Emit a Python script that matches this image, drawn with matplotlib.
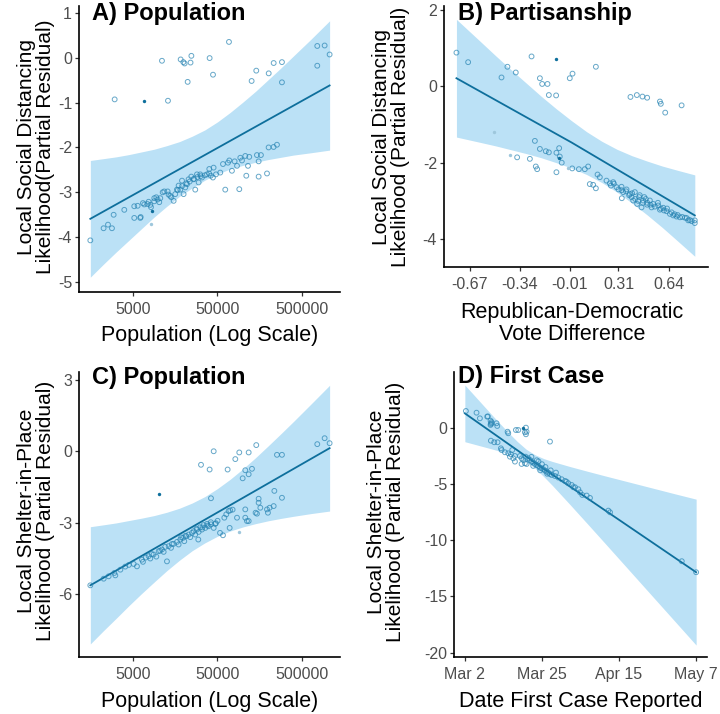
import numpy as np
import matplotlib.pyplot as plt
from matplotlib.ticker import NullLocator

plt.rcParams['font.family'] = ['Liberation Sans', 'DejaVu Sans']

# ---- Panel A: social distancing vs population (log10 population) ----
a_logpop = [3.482, 4.113, 4.042, 4.263, 4.295, 4.310, 4.380, 4.390, 4.346, 4.606, 4.646,
            4.835, 5.103, 5.158, 5.305, 5.364, 5.462, 5.462, 5.880, 5.880, 5.967, 6.026,
            3.194, 3.351, 3.403, 3.450, 3.470, 3.596, 3.714, 3.785, 3.790, 3.714,
            3.754, 3.817, 3.833, 3.884, 3.904, 3.912, 3.951, 3.975, 4.010, 4.022,
            4.069, 4.109, 4.140, 4.180, 4.152, 4.199, 4.219, 4.259, 4.239, 4.279,
            4.298, 4.318, 4.338, 4.357, 4.389, 4.417, 4.436, 4.456, 4.495, 4.476,
            4.515, 4.574, 4.602, 4.653, 4.645, 4.681, 4.732, 4.764, 4.791, 4.823,
            4.839, 4.870, 4.902, 4.930, 4.957, 4.969, 4.989, 5.028, 5.040, 5.060,
            5.075, 5.166, 5.186, 5.186, 5.213, 5.285, 5.304, 5.363, 5.403,
            4.05, 4.12, 4.23, 4.28, 4.33, 4.37, 4.42, 4.46, 4.50, 4.55, 4.60, 4.62,
            3.95, 3.87, 3.99]
a_resid = [-0.93, -0.96, -0.07, -0.04, -0.10, -0.13, -0.11, 0.04, -0.54, -0.01, -0.38,
           0.35, -0.52, -0.29, -0.35, -0.12, -0.10, -0.55, 0.26, -0.18, 0.27, 0.07,
           -4.07, -3.80, -3.72, -3.80, -3.50, -3.39, -3.57, -3.57, -3.55, -3.31,
           -3.30, -3.24, -3.27, -3.21, -3.28, -3.33, -3.13, -3.11, -3.22, -3.13,
           -2.98, -2.98, -3.08, -3.19, -3.11, -3.04, -2.94, -2.94, -2.85, -2.74,
           -3.04, -2.89, -2.82, -2.71, -2.65, -2.71, -2.94, -2.60, -2.60, -2.78,
           -2.67, -2.60, -2.48, -2.45, -2.67, -2.60, -2.56, -2.37, -2.94, -2.34,
           -2.29, -2.52, -2.31, -2.41, -2.93, -2.23, -2.29, -2.19, -2.63, -2.41,
           -2.21, -2.17, -2.31, -2.65, -2.17, -2.58, -2.00, -1.99, -1.94,
           -3.00, -3.05, -2.95, -2.86, -2.80, -2.76, -2.70, -2.66, -2.64, -2.62, -2.58, -2.63,
           -3.20, -3.26, -3.16]
a_filled_x = [3.825, 3.923]
a_filled_y = [-0.96, -3.41]
a_faint_x = [3.912]
a_faint_y = [-3.71]
a_fit_x = [3.194, 6.026]
a_fit_y = [-3.59, -0.62]
a_band_x = [3.194, 3.35, 3.5, 3.65, 3.8, 3.95, 4.1, 4.25, 4.4, 4.55, 4.7, 4.85, 5.0,
            5.15, 5.3, 5.45, 5.6, 5.8, 6.026]
a_band_hi = [-2.29, -2.25, -2.21, -2.16, -2.10, -2.04, -1.96, -1.87, -1.75, -1.61, -1.43,
             -1.22, -0.99, -0.75, -0.49, -0.23, 0.04, 0.40, 0.82]
a_band_lo = [-4.89, -4.60, -4.33, -4.07, -3.81, -3.55, -3.31, -3.09, -2.90, -2.73, -2.59,
             -2.48, -2.40, -2.33, -2.27, -2.22, -2.17, -2.12, -2.06]

# ---- Panel B: social distancing vs vote difference ----
b_vote = [-0.758, -0.681, -0.461, -0.422, -0.367, -0.263, -0.208, -0.193, -0.158, -0.149,
          -0.101, -0.011, 0.007, 0.161, 0.389, 0.431, 0.468, 0.499, 0.583, 0.589, 0.618, 0.726,
          -0.358, -0.274, -0.241, -0.208, -0.235, -0.226, -0.169, -0.149, -0.099, -0.077,
          -0.081, -0.064, -0.099, 0.005, 0.049, 0.088, 0.110, 0.121, 0.143, 0.161,
          0.172, 0.187, 0.231, 0.253, 0.275, 0.297, 0.330, 0.341, 0.332, 0.363,
          0.385, 0.396, 0.407, 0.418, 0.433, 0.446, 0.462, 0.473, 0.490, 0.499,
          0.517, 0.528, 0.539, 0.572, 0.583, 0.605, 0.627, 0.649, 0.671, 0.693,
          0.715, 0.748, 0.770, 0.813, 0.813, 0.792,
          0.36, 0.38, 0.40, 0.42, 0.44, 0.45, 0.47, 0.48, 0.50, 0.52, 0.55, 0.57, 0.59,
          0.61, 0.63, 0.66, 0.68, 0.70, 0.73, 0.76, 0.78, 0.26, 0.28, 0.31, 0.33]
b_resid = [0.88, 0.63, 0.23, 0.51, 0.36, 0.78, 0.21, 0.06, 0.06, -0.23,
           -0.24, 0.21, 0.33, 0.51, -0.28, -0.23, -0.27, -0.30, -0.40, -0.46, -0.69, -0.50,
           -1.86, -1.90, -1.43, -1.64, -2.10, -2.17, -1.70, -1.73, -1.74, -1.84,
           -1.62, -2.00, -2.25, -2.15, -2.17, -2.17, -2.10, -2.56, -2.58, -2.67,
           -2.31, -2.38, -2.47, -2.54, -2.51, -2.64, -2.63, -2.77, -2.93, -2.70,
           -2.82, -2.90, -2.99, -2.77, -3.08, -2.90, -3.17, -2.99, -2.95, -3.10,
           -2.99, -3.17, -3.08, -3.12, -3.23, -3.18, -3.27, -3.34, -3.38, -3.41,
           -3.43, -3.44, -3.51, -3.58, -3.51, -3.53,
           -2.75, -2.85, -2.80, -2.95, -3.00, -2.85, -3.05, -2.90, -3.05, -3.10, -3.15, -3.05, -3.20,
           -3.25, -3.20, -3.30, -3.35, -3.37, -3.42, -3.45, -3.50, -2.60, -2.55, -2.70, -2.72]
b_filled_x = [-0.099, -0.085]
b_filled_y = [0.70, -1.87]
b_faint_x = [-0.512, -0.406, -0.022]
b_faint_y = [-1.21, -1.79, -2.15]
b_fit_x = [-0.758, 0.0, 0.813]
b_fit_y = [0.21, -1.47, -3.38]
b_band_x = [-0.758, -0.6, -0.5, -0.4, -0.3, -0.2, -0.1, 0.0, 0.1, 0.2, 0.3, 0.4, 0.5,
            0.6, 0.7, 0.813]
b_band_hi = [1.75, 1.17, 0.80, 0.44, 0.09, -0.26, -0.59, -0.90, -1.19, -1.44, -1.65,
             -1.82, -1.96, -2.09, -2.20, -2.32]
b_band_lo = [-1.33, -1.47, -1.56, -1.66, -1.76, -1.87, -2.00, -2.14, -2.31, -2.52, -2.77,
             -3.06, -3.37, -3.70, -4.05, -4.45]
b_ticks = [-0.67, -0.34, -0.01, 0.31, 0.64]

# ---- Panel C: shelter-in-place vs population (log10 population) ----
c_logpop = [4.504, 4.606, 4.654, 4.622, 4.819, 4.910, 4.957, 4.997, 5.028, 5.068,
            5.068, 5.107, 5.158, 5.372, 5.403, 5.462, 5.462, 5.880, 5.967, 6.026,
            4.780, 4.803, 4.831, 4.850, 4.878, 4.930, 4.843, 4.729, 4.764, 5.028,
            5.048, 5.028, 5.068, 5.150, 5.166, 5.186, 5.206, 5.285, 5.296, 5.316, 5.364, 5.186,
            3.194, 3.352, 3.411, 3.478, 3.490, 3.608, 3.707, 3.746, 3.805, 3.817,
            3.884, 3.904, 3.943, 3.975, 4.003, 4.042, 4.062, 4.101, 4.121, 4.149,
            4.180, 4.220, 4.239, 4.259, 4.291, 4.306, 4.330, 4.357, 4.377, 4.397,
            4.417, 4.436, 4.456, 4.476, 4.495, 4.515, 4.535, 4.555, 4.575, 4.594,
            4.622, 4.654, 4.673, 4.472,
            3.55, 3.65, 3.85, 3.92, 4.02, 4.08, 4.16, 4.27, 4.32, 4.45, 4.52, 4.58, 4.62,
            4.68, 4.70]
c_resid = [-0.56, -0.76, 0.01, -1.97, -0.76, -0.32, -0.04, -1.13, -0.79, -0.04,
           -0.96, -0.73, 0.27, -1.66, -0.14, -0.14, -1.95, 0.31, 0.56, 0.35,
           -2.79, -2.65, -2.51, -2.48, -2.45, -2.79, -3.22, -3.43, -3.53, -2.79,
           -2.93, -2.44, -2.93, -2.58, -2.62, -2.16, -2.37, -2.44, -2.58, -2.37, -2.30, -1.99,
           -5.64, -5.36, -5.26, -5.12, -5.22, -4.85, -4.74, -4.84, -4.56, -4.65,
           -4.41, -4.51, -4.34, -4.43, -4.20, -4.13, -4.23, -4.63, -3.99, -4.06,
           -3.89, -3.81, -3.92, -3.71, -3.64, -3.78, -3.57, -3.50, -3.61, -3.43,
           -3.36, -3.50, -3.29, -3.39, -3.19, -3.29, -3.10, -3.22, -3.05, -3.15,
           -3.07, -3.22, -3.05, -3.71,
           -4.98, -4.78, -4.47, -4.32, -4.18, -4.02, -3.90, -3.62, -3.55, -3.25, -3.20, -3.12, -2.98,
           -3.02, -2.92]
c_filled_x = [4.007]
c_filled_y = [-1.81]
c_faint_x = [4.953]
c_faint_y = [-3.40]
c_fit_x = [3.194, 6.026]
c_fit_y = [-5.64, 0.14]
c_band_x = a_band_x
c_band_hi = [-3.17, -3.09, -3.01, -2.91, -2.81, -2.70, -2.56, -2.39, -2.17, -1.90, -1.56,
             -1.17, -0.73, -0.26, 0.24, 0.75, 1.27, 1.98, 2.79]
c_band_lo = [-8.11, -7.55, -7.03, -6.50, -5.99, -5.50, -5.02, -4.58, -4.18, -3.85, -3.57,
             -3.35, -3.18, -3.04, -2.92, -2.82, -2.73, -2.62, -2.51]

# ---- Panel D: shelter-in-place vs date of first case (days after Mar 2) ----
d_day = [0.29, 3.33, 4.29, 6.38, 7.33, 7.62, 7.33, 9.05, 9.24, 12.19, 12.38, 14.57, 15.24,
         17.43, 17.14, 17.43, 17.62, 24.29, 7.43, 8.38, 9.33, 10.29, 10.48, 11.43, 12.38,
         13.14, 13.52, 14.29, 12.86, 13.81, 15.71, 16.19, 14.29, 16.67, 17.14, 16.19, 17.62,
         17.33, 18.10, 18.57, 19.05, 19.52, 20.0, 20.48, 20.95, 21.43, 21.90, 22.38, 22.86,
         23.33, 23.81, 24.29, 24.76, 25.71, 26.67, 27.62, 28.57, 29.52, 30.48, 31.43, 32.38,
         33.52, 29.0, 30.95, 32.86, 34.76, 35.7, 40.95, 41.43, 61.9, 66.0, 6.57, 7.4, 7.6,
         19.0, 20.5, 21.0, 22.0, 23.0, 24.5, 26.0, 19.5, 21.5, 23.5]
d_resid = [1.48, 1.33, 0.83, 0.98, 0.62, 0.39, 0.24, 0.39, 0.15, -0.36, -0.50, -0.21, -0.21,
           0.0, -0.41, -0.59, -0.36, -1.24, -1.16, -1.30, -1.30, -1.84, -1.99, -2.19, -2.28,
           -2.37, -1.99, -2.52, -2.58, -2.73, -2.52, -2.73, -3.02, -2.87, -3.17, -3.23, -3.23,
           -2.58, -2.73, -2.87, -3.02, -3.11, -3.23, -3.32, -3.41, -3.56, -3.61, -3.70, -3.82,
           -3.91, -4.00, -4.12, -4.21, -4.30, -4.44, -4.59, -4.74, -4.95, -5.10, -5.30, -5.48,
           -5.99, -4.80, -5.30, -5.75, -6.04, -6.25, -7.38, -7.53, -11.88, -12.86, 1.0, 0.33, 0.5,
           -2.6, -2.9, -3.0, -3.25, -3.5, -3.8, -4.0, -3.4, -3.8, -4.1]
d_filled_x = [16.67]
d_filled_y = [0.0]
d_fit_x = [0, 22, 44, 66]
d_fit_y = [1.27, -3.55, -8.2, -12.86]
d_band_x = [0, 2.5, 5, 7.5, 10, 12.5, 15, 17.5, 20, 22.5, 25, 30, 35, 40, 45, 50, 55, 60, 66]
d_band_hi = [3.79, 2.93, 2.07, 1.21, 0.37, -0.46, -1.24, -1.92, -2.41, -2.75, -3.01, -3.46,
             -3.88, -4.29, -4.69, -5.09, -5.49, -5.89, -6.36]
d_band_lo = [-1.25, -1.46, -1.67, -1.88, -2.10, -2.35, -2.64, -3.03, -3.61, -4.35, -5.15,
             -6.84, -8.56, -10.29, -12.03, -13.77, -15.51, -17.25, -19.34]
d_ticks = [0, 22, 44, 66]
d_ticklabels = ['Mar 2', 'Mar 25', 'Apr 15', 'May 7']

pop_ticks = [5000, 50000, 500000]

LINE = '#0E6F9C'
BAND = '#56B4E9'
PT = '#2683B2'
W, H = 720, 714


def draw(ax, x, y, fx, fy, gx, gy, lx, ly, bx, blo, bhi):
    ax.fill_between(bx, blo, bhi, color=BAND, alpha=0.4, lw=0, zorder=1)
    ax.plot(lx, ly, color=LINE, lw=1.3, zorder=2)
    ax.scatter(x, y, s=12, facecolors='none', edgecolors=PT, linewidths=0.7,
               alpha=0.7, zorder=3)
    if len(fx):
        ax.scatter(fx, fy, s=6, color=LINE, lw=0, zorder=4)
    if len(gx):
        ax.scatter(gx, gy, s=6, color='#9ec7dc', lw=0, zorder=4)
    for s in ['top', 'right']:
        ax.spines[s].set_visible(False)
    for s in ['left', 'bottom']:
        ax.spines[s].set_linewidth(1.2)
    ax.tick_params(length=3, width=0.9, color='#333333', labelcolor='#4D4D4D',
                   labelsize=11.5, pad=2)
    ax.tick_params(axis='x', pad=4)


def box(l, r, t, b):
    return [l / W, 1 - b / H, (r - l) / W, (b - t) / H]


fig = plt.figure(figsize=(7.2, 7.14), dpi=100)

axA = fig.add_axes(box(79, 340, 6, 292))
draw(axA, 10 ** np.array(a_logpop), a_resid, 10 ** np.array(a_filled_x), a_filled_y,
     10 ** np.array(a_faint_x), a_faint_y, 10 ** np.array(a_fit_x), a_fit_y,
     10 ** np.array(a_band_x), a_band_lo, a_band_hi)
axA.set_xscale('log')
axA.set_xlim(10 ** 3.06, 10 ** 6.149)
axA.set_ylim(-5.22, 1.15)
axA.set_yticks([1, 0, -1, -2, -3, -4, -5])
axA.set_yticklabels(['1', '0', '-1', '-2', '-3', '-4', '-5'])

axB = fig.add_axes(box(444, 708, 6, 267))
draw(axB, b_vote, b_resid, b_filled_x, b_filled_y, b_faint_x, b_faint_y,
     b_fit_x, b_fit_y, b_band_x, b_band_lo, b_band_hi)
axB.set_xlim(-0.84, 0.90)
axB.set_ylim(-4.73, 2.1)
axB.set_xticks(b_ticks)
axB.set_xticklabels([f'{t:.2f}' for t in b_ticks])
axB.set_yticks([2, 0, -2, -4])
axB.set_yticklabels(['2', '0', '-2', '-4'])

axC = fig.add_axes(box(79, 340, 372, 657))
draw(axC, 10 ** np.array(c_logpop), c_resid, 10 ** np.array(c_filled_x), c_filled_y,
     10 ** np.array(c_faint_x), c_faint_y, 10 ** np.array(c_fit_x), c_fit_y,
     10 ** np.array(c_band_x), c_band_lo, c_band_hi)
axC.set_xscale('log')
axC.set_xlim(10 ** 3.06, 10 ** 6.149)
axC.set_ylim(-8.66, 3.35)
axC.set_yticks([3, 0, -3, -6])
axC.set_yticklabels(['3', '0', '-3', '-6'])

axD = fig.add_axes(box(454, 707, 372, 657))
draw(axD, d_day, d_resid, d_filled_x, d_filled_y, [], [],
     d_fit_x, d_fit_y, d_band_x, d_band_lo, d_band_hi)
axD.set_xlim(-3.1, 69.1)
axD.set_ylim(-20.4, 4.95)
axD.set_xticks(d_ticks)
axD.set_xticklabels(d_ticklabels)
axD.set_yticks([0, -5, -10, -15, -20])
axD.set_yticklabels(['0', '-5', '-10', '-15', '-20'])

for ax in (axA, axC):
    ax.set_xticks(pop_ticks)
    ax.set_xticklabels([str(p) for p in pop_ticks])
    ax.xaxis.set_minor_locator(NullLocator())


def ftext(px, py, s, **kw):
    fig.text(px / W, 1 - py / H, s, **kw)


# panel titles
ftext(92, 13.5, 'A) Population', fontsize=17, fontweight='bold', va='center')
ftext(458, 13.5, 'B) Partisanship', fontsize=17, fontweight='bold', va='center')
ftext(92, 377.5, 'C) Population', fontsize=17, fontweight='bold', va='center')
ftext(458, 377, 'D) First Case', fontsize=17, fontweight='bold', va='center')

# axis titles
lab = dict(fontsize=15.5, ha='center', va='center', linespacing=1.05)
ylab = dict(lab, fontsize=15)
ftext(36, 147, 'Local Social Distancing\nLikelihood(Partial Residual)', rotation=90, **ylab)
ftext(391, 137, 'Local Social Distancing\nLikelihood (Partial Residual)', rotation=90, **ylab)
ftext(36, 511, 'Local Shelter-in-Place\nLikelihood (Partial Residual)', rotation=90, **ylab)
ftext(386, 512, 'Local Shelter-in-Place\nLikelihood (Partial Residual)', rotation=90, **ylab)
ftext(210, 335, 'Population (Log Scale)', **lab)
ftext(572, 323.5, 'Republican-Democratic\nVote Difference', **lab)
ftext(210, 702, 'Population (Log Scale)', **lab)
ftext(581, 701, 'Date First Case Reported', **lab)

fig.savefig('out.png', dpi=100)
